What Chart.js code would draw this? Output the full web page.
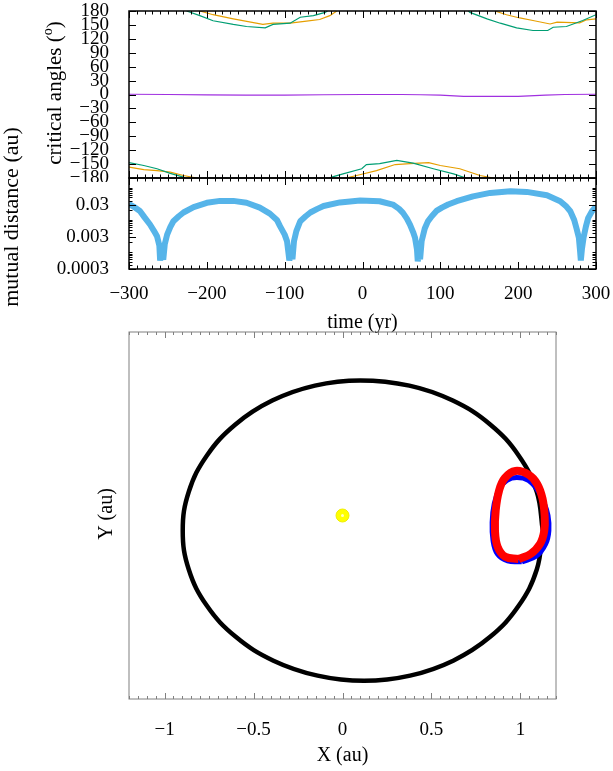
<!DOCTYPE html>
<html>
<head>
<meta charset="utf-8">
<script src="https://cdn.jsdelivr.net/npm/chart.js@4.4.0/dist/chart.umd.min.js"></script>
<style>
  body { margin: 0; background: #fff; width: 613px; height: 771px; position: relative; overflow: hidden; }
  canvas { position: absolute; left: 0; }
</style>
</head>
<body>
<canvas id="angles" width="613" height="182" style="top:0px"></canvas>
<canvas id="dist" width="613" height="240" style="top:100px"></canvas>
<canvas id="orbit" width="613" height="451" style="top:320px"></canvas>
<script>
// ---- data ----
var angleTicks = [-180, -150, -120, -90, -60, -30, 0, 30, 60, 90, 120, 150, 180];
var timeTicks = [-300, -200, -100, 0, 100, 200, 300];
var distTicks = [0.0003, 0.003, 0.03];
var xTicks = [-1, -0.5, 0, 0.5, 1];

// critical angles (null = wrap-around break)
var greenTime = [-300, -281, -264, -247, -230, -228, -227, -226, -209, -192, -166, -149, -125, -115, -93, -80, -63, -48, -45, -44,
  -42, -39.6, -25, -1, 5, 22, 44, 65, 91, 117, 132, 133, 135, 136, 138, 160, 177, 198, 219, 238, 245, 262, 283, 300];
var greenAngle = [-147, -153, -160, -170, -178, -180, null, 180, 170, 159, 151, 146.6, 143.8, 151, 153.7, 166.6, 170, 177, 180, null,
  -180, -178, -171, -160, -151, -149, -142, -148, -160, -171, -179.5, -180, null, 180, 177, 163, 153.7, 143.8, 138, 138, 145, 146.6, 159.5, 172];

var orangeTime = [-300, -281, -264, -247, -230, -213, -211, -209, -192, -166, -128, -115, -93, -72, -55, -42, -33, -27,
  -22, -20, -1, 18, 42, 61, 85, 100, 125, 151, 168, 169, 170, 185, 202, 219, 241, 250, 279, 288, 300];
var orangeAngle = [-156.7, -162, -164, -167.5, -174.6, -180, null, 180, 172, 163, 151, 153.7, 153.7, 158, 161.7, 170, 180, null,
  -180, -179.5, -172, -164, -151, -149, -147, -153, -160, -174.6, -180, null, 180, 172, 165, 159.5, 152, 156, 154.6, 161, 163];

var purpleTime = [-300, -250, -200, -150, -100, -50, 0, 50, 75, 100, 130, 160, 200, 235, 260, 300];
var purpleAngle = [0.5, 0, -1, -1.5, -1.5, -0.5, 0, 0, -0.5, -1.5, -4, -4, -4, -1.5, 0, 0.5];

// mutual distance (au)
var distTime = [-300, -292, -286, -280, -273, -268, -264, -261, -260, -258, -256, -254, -251, -247, -243, -236, -230, -217, -200, -183,
  -166, -149, -132, -119, -110, -106, -100, -97, -95, -94, -92, -90, -88, -85, -80, -73, -67, -58, -50, -29,
  -3, 22, 39, 47, 52, 57, 61, 65, 67.5, 70, 71, 72.5, 74, 76, 80, 84, 89, 95, 102, 110,
  121, 142, 164, 190, 211, 237, 254, 262, 267, 272, 275, 278, 279.5, 280.5, 282, 284, 287, 290, 295, 300];
var distValue = [0.031, 0.024, 0.019, 0.012, 0.0072, 0.0046, 0.0031, 0.0016, 0.00055, 0.0011, 0.00058, 0.0018, 0.0035, 0.006, 0.0091, 0.013, 0.017, 0.025, 0.034, 0.039,
  0.039, 0.034, 0.024, 0.0157, 0.01, 0.0064, 0.0035, 0.0022, 0.0009, 0.00055, 0.0012, 0.0006, 0.0022, 0.0045, 0.0091, 0.013, 0.017, 0.022, 0.027, 0.035,
  0.04, 0.038, 0.03, 0.022, 0.0165, 0.011, 0.0072, 0.0042, 0.0028, 0.0012, 0.00052, 0.001, 0.0006, 0.0022, 0.0054, 0.009, 0.013, 0.019, 0.024, 0.03,
  0.038, 0.054, 0.069, 0.078, 0.074, 0.058, 0.038, 0.026, 0.0186, 0.01, 0.0054, 0.0028, 0.0011, 0.00055, 0.0013, 0.0028, 0.0062, 0.0116, 0.019, 0.026];

// orbit plane (au)
var orbitX = [1.126, 1.092, 0.990, 0.830, 0.620, 0.376, 0.100, -0.155, -0.395, -0.602, -0.762, -0.864, -0.898, -0.864, -0.762, -0.600, -0.388, -0.140, 0.121, 0.380, 0.622, 0.830, 0.990, 1.092, 1.126];
var orbitY = [-0.085, 0.133, 0.337, 0.511, 0.645, 0.729, 0.758, 0.729, 0.645, 0.511, 0.337, 0.133, -0.085, -0.303, -0.507, -0.681, -0.815, -0.899, -0.928, -0.899, -0.815, -0.681, -0.507, -0.303, -0.085];
var redX = [0.990, 0.915, 0.872, 0.857, 0.861, 0.880, 0.912, 0.972, 1.048, 1.095, 1.124, 1.136, 1.134, 1.110, 1.057, 0.990];
var redY = [-0.244, -0.232, -0.176, -0.084, 0.028, 0.140, 0.210, 0.250, 0.228, 0.176, 0.096, 0.0, -0.086, -0.160, -0.216, -0.244];
var blueX = [1.008, 0.928, 0.870, 0.846, 0.841, 0.853, 0.883, 0.924, 0.980, 1.045, 1.098, 1.132, 1.155, 1.160, 1.142, 1.090, 1.008];
var blueY = [-0.260, -0.255, -0.215, -0.140, -0.039, 0.067, 0.152, 0.197, 0.213, 0.197, 0.140, 0.073, 0.0, -0.084, -0.160, -0.228, -0.260];
var sunX = [0];
var sunY = [0];

// ---- helpers ----
var FONT = 'Liberation Serif';
Chart.defaults.font.family = FONT;
Chart.defaults.font.size = 19;
Chart.defaults.color = '#000';

function pts(xs, ys) {
  return xs.map(function (x, i) { return { x: x, y: ys[i] }; });
}
function curve(xs, ys, color, width, extra) {
  var d = { data: pts(xs, ys), showLine: true, borderColor: color, backgroundColor: color, borderWidth: width, pointRadius: 0, fill: false };
  for (var k in extra) d[k] = extra[k];
  return d;
}
function minus(v) { return String(v).replace('-', '\u2212'); }
function setTicks(list) {
  return function (s) { s.ticks = list.map(function (v) { return { value: v }; }); };
}
// fixed axis size, no extra label padding around the plot
function fixWidth(w) {
  return function (s) { s.width = w; s.paddingTop = 0; s.paddingBottom = 0; };
}
function fixHeight(h) {
  return function (s) { s.height = h; s.paddingLeft = 0; s.paddingRight = 0; };
}

// frame + inward gnuplot style ticks
function makeFrame(color, width, xt, yt) {
  return {
    id: 'frame',
    afterDatasetsDraw: function (chart) {
      var ctx = chart.ctx, a = chart.chartArea, sx = chart.scales.x, sy = chart.scales.y;
      ctx.save();
      ctx.strokeStyle = color;
      ctx.lineWidth = 1;
      ctx.beginPath();
      xt.forEach(function (t) {
        var p = Math.round(sx.getPixelForValue(t[0])) + 0.5;
        ctx.moveTo(p, a.bottom); ctx.lineTo(p, a.bottom - t[1]);
        ctx.moveTo(p, a.top); ctx.lineTo(p, a.top + t[1]);
      });
      yt.forEach(function (t) {
        var p = Math.round(sy.getPixelForValue(t[0])) + 0.5;
        ctx.moveTo(a.left, p); ctx.lineTo(a.left + t[1], p);
        ctx.moveTo(a.right, p); ctx.lineTo(a.right - t[1], p);
      });
      ctx.stroke();
      ctx.lineWidth = width;
      ctx.strokeRect(a.left, a.top, a.right - a.left, a.bottom - a.top);
      ctx.restore();
    }
  };
}

// axis titles, parts allow a superscript
function makeTitles(items) {
  return {
    id: 'titles',
    afterDraw: function (chart) {
      var ctx = chart.ctx;
      items.forEach(function (it) {
        ctx.save();
        ctx.translate(it.x, it.y);
        if (it.rot) ctx.rotate(-Math.PI / 2);
        ctx.fillStyle = '#000';
        ctx.textBaseline = 'middle';
        ctx.textAlign = 'left';
        var widths = [], total = 0;
        it.parts.forEach(function (p) {
          ctx.font = p[1] + 'px "' + FONT + '"';
          var w = ctx.measureText(p[0]).width;
          widths.push(w); total += w;
        });
        var cx = -total / 2;
        it.parts.forEach(function (p, i) {
          ctx.font = p[1] + 'px "' + FONT + '"';
          ctx.fillText(p[0], cx, p[2] || 0);
          cx += widths[i];
        });
        ctx.restore();
      });
    }
  };
}

// sun marker: small light dot in the middle, like the gnuplot point
var sunDot = {
  id: 'sunDot',
  afterDatasetsDraw: function (chart) {
    var ctx = chart.ctx;
    var px = chart.scales.x.getPixelForValue(sunX[0]);
    var py = chart.scales.y.getPixelForValue(sunY[0]);
    ctx.save();
    ctx.fillStyle = '#ffffc0';
    ctx.beginPath();
    ctx.arc(px, py, 1.5, 0, Math.PI * 2);
    ctx.fill();
    ctx.restore();
  }
};

// tick lists
var timeTickMarks = [];
for (var t = -300; t <= 300; t += 10) timeTickMarks.push([t, t % 100 === 0 ? 7 : 3.5]);
var angleTickMarks = angleTicks.map(function (v) { return [v, 7]; });
var distTickMarks = [];
for (var n = -4; n <= -1; n++) {
  for (var k = 1; k <= 9; k++) {
    var v = k * Math.pow(10, n);
    if (v >= 0.0003 && v <= 0.2) distTickMarks.push([v, k === 3 ? 7 : 3.5]);
  }
}
var xTickMarks = [];
for (var i = -24; i <= 24; i++) xTickMarks.push([i * 0.05, i % 10 === 0 ? 6 : 3]);

var base = {
  responsive: false, animation: false, events: [], devicePixelRatio: 1,
  plugins: { legend: { display: false }, tooltip: { enabled: false } }
};
function opts(extra) {
  var o = JSON.parse(JSON.stringify(base));
  for (var k in extra) o[k] = extra[k];
  return o;
}

// ---- top: critical angles ----
new Chart(document.getElementById('angles'), {
  type: 'scatter',
  data: {
    datasets: [
      curve(greenTime, greenAngle, '#009e73', 1.2),
      curve(orangeTime, orangeAngle, '#e69f00', 1.2),
      curve(purpleTime, purpleAngle, '#a030e0', 1.2)
    ]
  },
  options: opts({
    layout: { padding: { top: 11, right: 17, bottom: 4, left: 0 } },
    scales: {
      x: { type: 'linear', min: -300, max: 300, display: false },
      y: {
        type: 'linear', min: -180, max: 180,
        afterFit: fixWidth(129),
        afterBuildTicks: setTicks(angleTicks),
        grid: { display: false }, border: { display: false },
        ticks: { autoSkip: false, padding: 12, callback: minus }
      }
    }
  }),
  plugins: [
    makeFrame('#000', 1.5, timeTickMarks, angleTickMarks),
    makeTitles([{ x: 55, y: 93, rot: true, parts: [['critical angles (', 21], ['o', 14, -7], [')', 21]] }])
  ]
});

// ---- middle: mutual distance ----
new Chart(document.getElementById('dist'), {
  type: 'scatter',
  data: {
    datasets: [curve(distTime, distValue, '#56b4e9', 6, { borderJoinStyle: 'bevel' })]
  },
  options: opts({
    layout: { padding: { top: 78, right: 17, bottom: 0, left: 0 } },
    scales: {
      x: {
        type: 'linear', min: -300, max: 300,
        afterFit: fixHeight(71),
        afterBuildTicks: setTicks(timeTicks),
        grid: { display: false }, border: { display: false },
        ticks: { autoSkip: false, maxRotation: 0, padding: 6, callback: minus }
      },
      y: {
        type: 'logarithmic', min: 0.0003, max: 0.2,
        afterFit: fixWidth(129),
        afterBuildTicks: setTicks(distTicks),
        grid: { display: false }, border: { display: false },
        ticks: { autoSkip: false, padding: 12, callback: function (v) { return String(v); } }
      }
    }
  }),
  plugins: [
    makeFrame('#000', 1.5, timeTickMarks, distTickMarks),
    makeTitles([
      { x: 12, y: 117, rot: true, parts: [['mutual distance (au)', 22]] },
      { x: 362.5, y: 222.5, parts: [['time (yr)', 20]] }
    ])
  ]
});

// ---- bottom: orbit plane ----
new Chart(document.getElementById('orbit'), {
  type: 'scatter',
  data: {
    datasets: [
      curve(sunX, sunY, '#ffff00', 0, { showLine: false, pointRadius: 6.5, pointBorderColor: '#eeee00', pointBorderWidth: 1, order: 0 }),
      curve(redX, redY, '#ff0000', 8, { tension: 0.4, order: 1 }),
      curve(blueX, blueY, '#0000ff', 5, { tension: 0.4, order: 2 }),
      curve(orbitX, orbitY, '#000000', 4.5, { tension: 0.4, order: 3 })
    ]
  },
  options: opts({
    layout: { padding: { top: 12, right: 57, bottom: 0, left: 129 } },
    scales: {
      x: {
        type: 'linear', min: -1.2, max: 1.2,
        afterFit: fixHeight(72),
        afterBuildTicks: setTicks(xTicks),
        grid: { display: false }, border: { display: false },
        ticks: { autoSkip: false, maxRotation: 0, padding: 12, callback: minus }
      },
      y: { type: 'linear', min: -1.03, max: 1.03, display: false }
    }
  }),
  plugins: [
    makeFrame('#808080', 1, xTickMarks, []),
    sunDot,
    makeTitles([
      { x: 342.5, y: 436, parts: [['X (au)', 20]] },
      { x: 107, y: 194, rot: true, parts: [['Y (au)', 20]] }
    ])
  ]
});
</script>
</body>
</html>
